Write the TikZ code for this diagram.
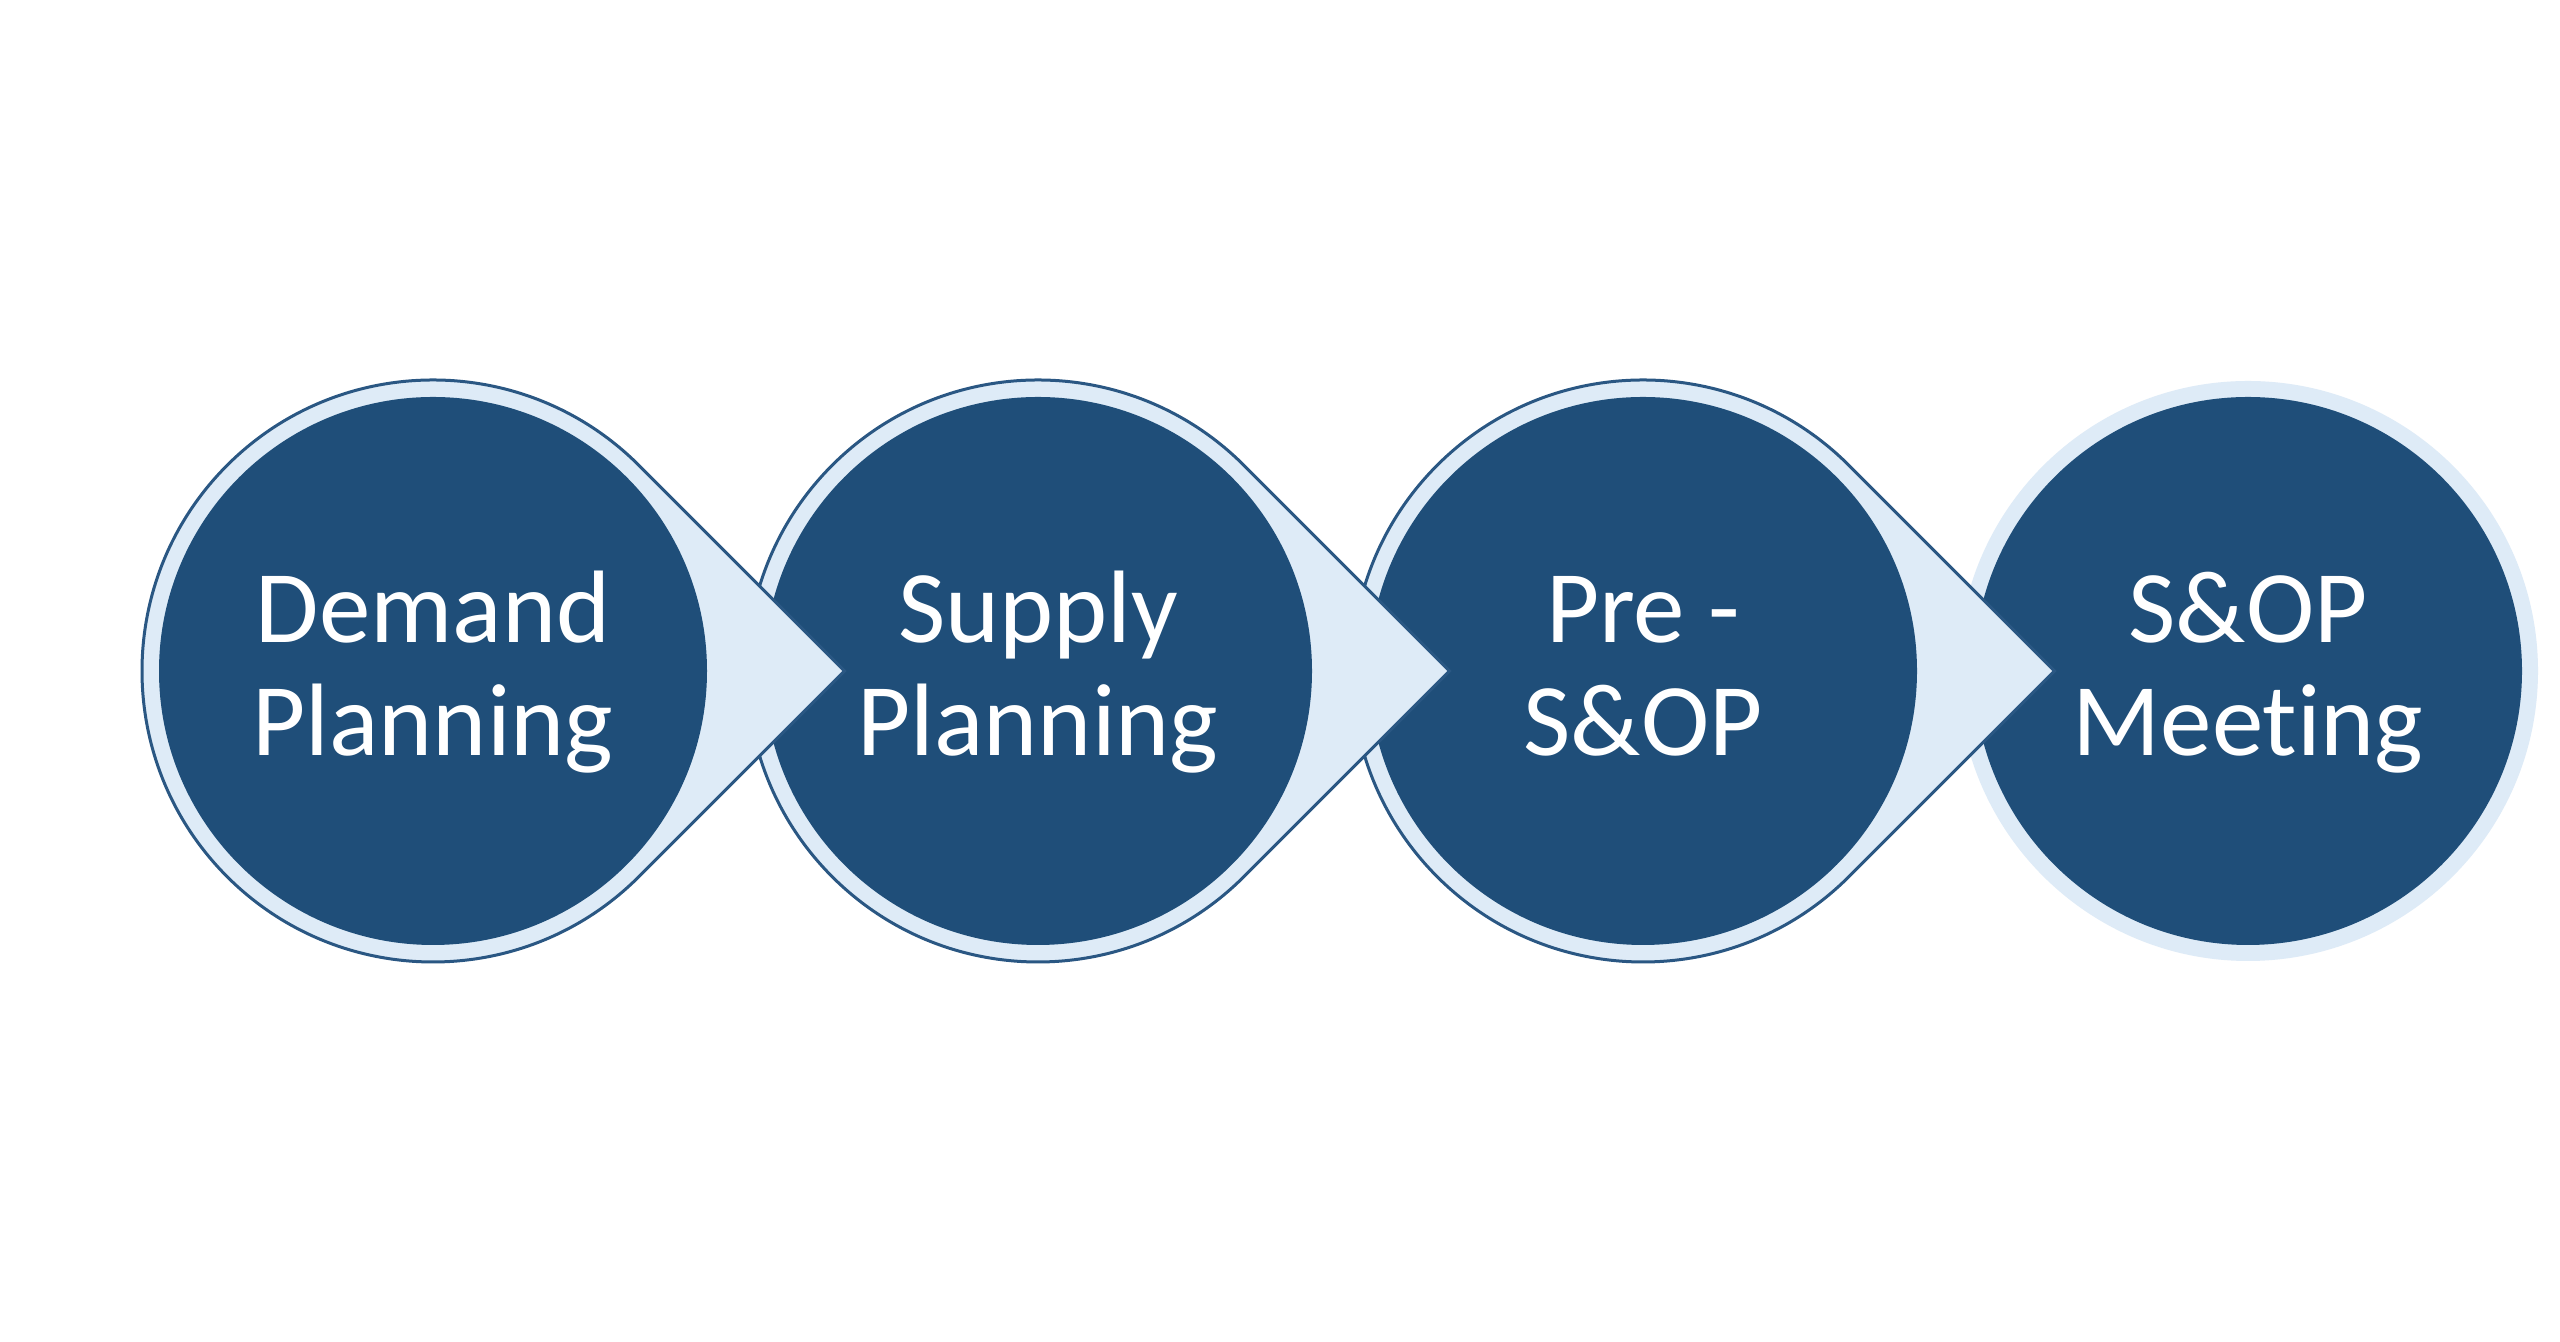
\documentclass[tikz,border=0pt]{standalone}
\usepackage{fontspec}
\setmainfont{Carlito}[Ligatures={NoCommon,NoRare,NoContextual}]
\usetikzlibrary{calc}
\definecolor{darkblue}{HTML}{1F4E79}
\definecolor{lightblue}{HTML}{DEEBF7}
\definecolor{edgeblue}{HTML}{2A5783}
\tikzset{
  outershape/.style={fill=lightblue, draw=edgeblue, line width=1.5pt, line join=miter},
  ringonly/.style={fill=lightblue, draw=none},
  core/.style={circle, fill=darkblue, draw=none, minimum size=274pt, inner sep=0pt},
  lbl/.style={anchor=base, text=white, inner sep=0pt, font=\fontsize{51.5}{56.5}\selectfont}
}
\begin{document}
\begin{tikzpicture}[x=0.5pt,y=0.5pt]
\useasboundingbox (0,0) rectangle (2560,1342);
\fill[white] (0,0) rectangle (2560,1342);
\coordinate (p1) at (433,671);
\coordinate (p2) at (1038,671);
\coordinate (p3) at (1643,671);
\coordinate (p4) at (2248,671);
% stage 4
\fill[ringonly] (p4) circle[radius=145pt];
\node[core] (c4) at (p4) {};
\node[lbl] (t4a) at ($(p4)+(0,28)$) {S\&OP};
\node[lbl] (t4b) at ($(p4)+(0,-85)$) {Mee{}t{}ing};
% stage 3
\draw[outershape] ($(p3)+(45:145.5pt)$) arc[start angle=45, end angle=315, radius=145.5pt] -- ($(p3)+(205.75pt,0)$) -- cycle;
\node[core] (c3) at (p3) {};
\node[lbl] (t3a) at ($(p3)+(0,28)$) {Pre -};
\node[lbl] (t3b) at ($(p3)+(0,-85)$) {S\&OP};
% stage 2
\draw[outershape] ($(p2)+(45:145.5pt)$) arc[start angle=45, end angle=315, radius=145.5pt] -- ($(p2)+(205.75pt,0)$) -- cycle;
\node[core] (c2) at (p2) {};
\node[lbl] (t2a) at ($(p2)+(0,28)$) {Supply};
\node[lbl] (t2b) at ($(p2)+(0,-85)$) {Planning};
% stage 1
\draw[outershape] ($(p1)+(45:145.5pt)$) arc[start angle=45, end angle=315, radius=145.5pt] -- ($(p1)+(205.75pt,0)$) -- cycle;
\node[core] (c1) at (p1) {};
\node[lbl] (t1a) at ($(p1)+(0,28)$) {Demand};
\node[lbl] (t1b) at ($(p1)+(0,-85)$) {Planning};
\end{tikzpicture}
\end{document}
